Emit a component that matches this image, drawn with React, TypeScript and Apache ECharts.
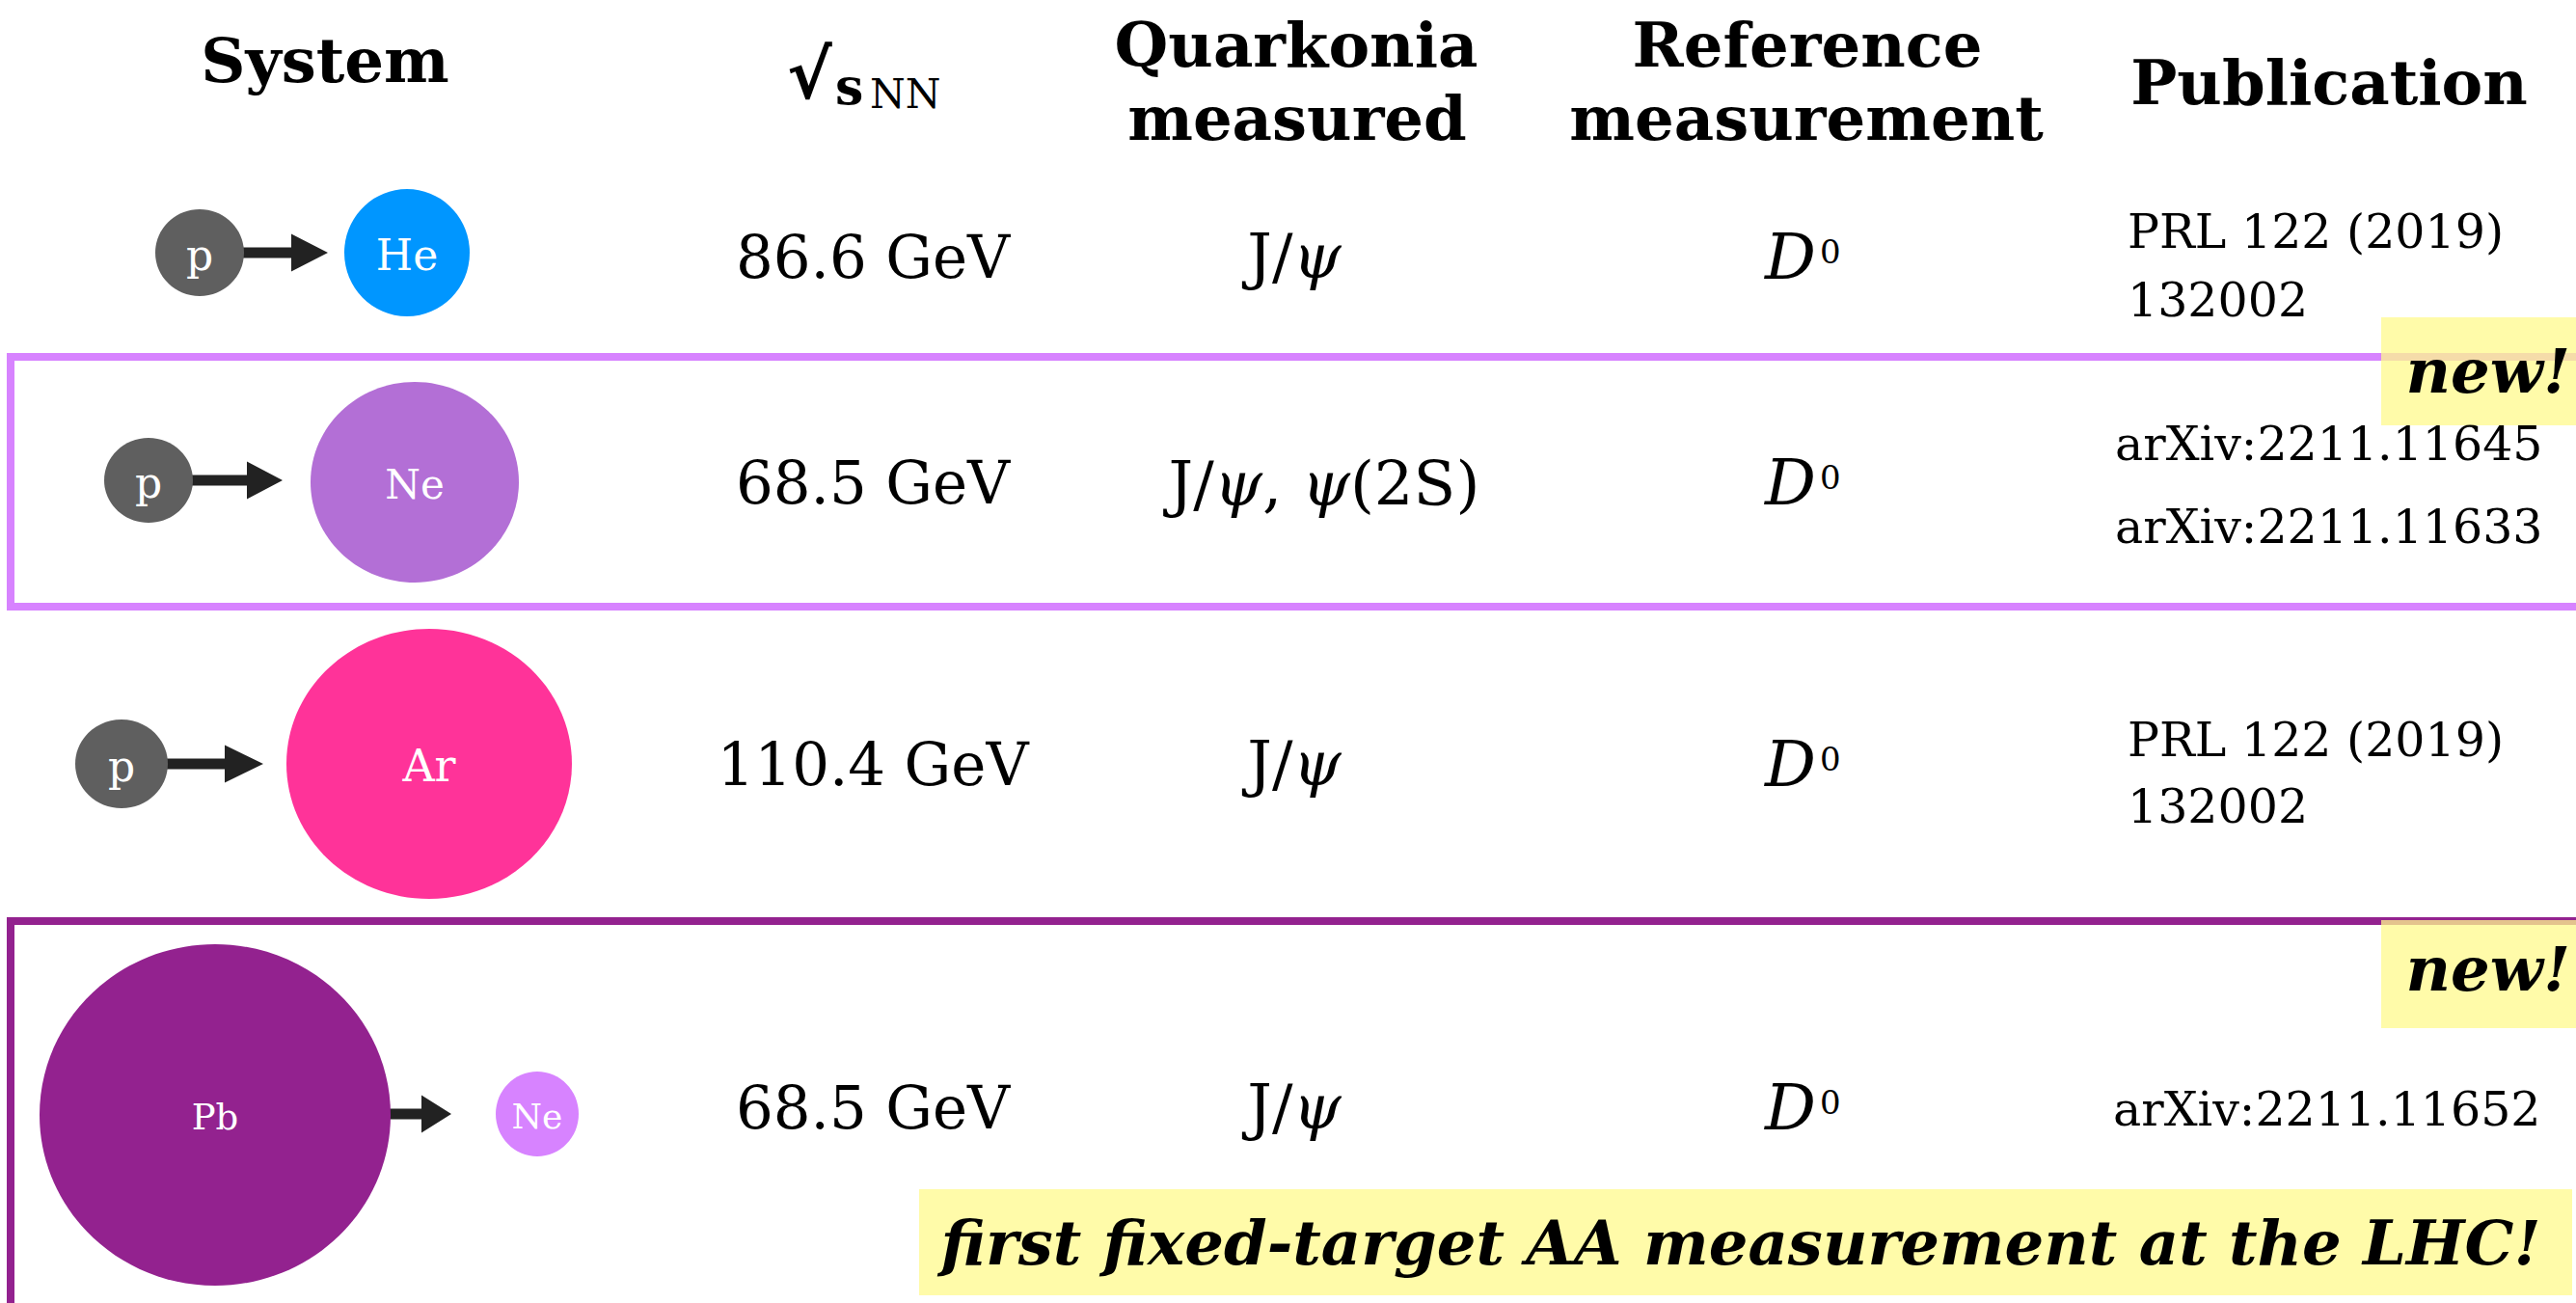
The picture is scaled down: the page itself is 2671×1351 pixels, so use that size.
import React, { useEffect, useRef } from "react";
import * as echarts from "echarts";

const W = 2671;
const H = 1351;
const FONT = '"DejaVu Serif", "Liberation Serif", serif';

// ---- table content ----
const headerSystem = "System";
const headerEnergy = ["√", "s", "NN"];
const headerQuarkonia = ["Quarkonia", "measured"];
const headerReference = ["Reference", "measurement"];
const headerPublication = "Publication";

const projectiles = ["p", "p", "p", "Pb"];
const targets = ["He", "Ne", "Ar", "Ne"];
const energies = ["86.6 GeV", "68.5 GeV", "110.4 GeV", "68.5 GeV"];
const quarkonia = [["J/ψ"], ["J/ψ", "ψ(2S)"], ["J/ψ"], ["J/ψ"]];
const references = [["D", "0"], ["D", "0"], ["D", "0"], ["D", "0"]];
const publications = [
  ["PRL 122 (2019)", "132002"],
  ["arXiv:2211.11645", "arXiv:2211.11633"],
  ["PRL 122 (2019)", "132002"],
  ["arXiv:2211.11652"],
];
const newFlags = [false, true, false, true];
const newLabel = "new!";
const highlight = "first fixed-target AA measurement at the LHC!";

// ---- layout ----
const rowY = [266, 500, 792, 1148];
const projGeom = [
  { cx: 207, cy: 262, rx: 46, ry: 45 },
  { cx: 154, cy: 498, rx: 46, ry: 44 },
  { cx: 126, cy: 792, rx: 48, ry: 46 },
  { cx: 223, cy: 1156, rx: 182, ry: 177 },
];
const targGeom = [
  { cx: 422, cy: 262, rx: 65, ry: 66 },
  { cx: 430, cy: 500, rx: 108, ry: 104 },
  { cx: 445, cy: 792, rx: 148, ry: 140 },
  { cx: 557, cy: 1155, rx: 43, ry: 44 },
];
const arrowGeom = [
  { x0: 245, xh: 302, x1: 340, y: 262 },
  { x0: 190, xh: 256, x1: 293, y: 498 },
  { x0: 165, xh: 233, x1: 273, y: 792 },
  { x0: 398, xh: 437, x1: 468, y: 1155 },
];
const projColors = ["#5f5f5f", "#5f5f5f", "#5f5f5f", "#93228f"];
const targColors = ["#0096ff", "#b36fd6", "#ff3399", "#d783ff"];
const projFont = [44, 44, 44, 37];
const targFont = [44, 42, 46, 36];
const pubX = [2206, 2193, 2206, 2191];
const pubY = [[240, 311], [460, 546], [767, 836], [1150]];
const boxes = [
  { y: 370, h: 259, color: "#d783ff" },
  { y: 955, h: 500, color: "#93228f" },
];
const newBoxY = [0, 329, 0, 954];
const newTextY = [0, 384, 0, 1004];

const txt = (text: string, x: number, y: number, size: number, o: any = {}) => ({
  type: "text",
  x,
  y,
  z: o.z ?? 10,
  style: {
    text,
    fontFamily: o.font ?? FONT,
    fontSize: size,
    fontWeight: o.weight ?? "normal",
    fontStyle: o.style ?? "normal",
    fill: o.fill ?? "#000",
    align: o.align ?? "center",
    verticalAlign: "middle",
  },
});

const richQ = (items: string[]) =>
  items
    .map((s) =>
      s
        .split(/(ψ)/)
        .filter((p) => p.length)
        .map((p) => (p === "ψ" ? `{i|ψ}` : `{n|${p}}`))
        .join("")
    )
    .join("{n|, }");

function buildElements() {
  const els: any[] = [];
  // headers
  els.push(txt(headerSystem, 337, 62, 64, { weight: "bold" }));
  els.push(
    txt(headerEnergy[0], 816, 78, 70, { weight: "bold", align: "left", font: '"DejaVu Sans", sans-serif' })
  );
  els.push(txt(headerEnergy[1], 866, 89, 52, { weight: "bold", align: "left" }));
  els.push(txt(headerEnergy[2], 902, 97, 42, { align: "left" }));
  els.push(txt(headerQuarkonia[0], 1344, 46, 64, { weight: "bold" }));
  els.push(txt(headerQuarkonia[1], 1345, 122, 64, { weight: "bold" }));
  els.push(txt(headerReference[0], 1874, 46, 64, { weight: "bold" }));
  els.push(txt(headerReference[1], 1873, 122, 64, { weight: "bold" }));
  els.push(txt(headerPublication, 2415, 85, 64, { weight: "bold" }));

  // boxes
  boxes.forEach((b) => {
    els.push({
      type: "rect",
      z: 2,
      shape: { x: 11, y: b.y, width: W + 40, height: b.h },
      style: { fill: "none", stroke: b.color, lineWidth: 8 },
    });
  });

  projectiles.forEach((p, i) => {
    const a = arrowGeom[i];
    const t = 5.5;
    const hh = 19.5;
    els.push({
      type: "polygon",
      z: 3,
      shape: {
        points: [
          [a.x0, a.y - t],
          [a.xh, a.y - t],
          [a.xh, a.y - hh],
          [a.x1, a.y],
          [a.xh, a.y + hh],
          [a.xh, a.y + t],
          [a.x0, a.y + t],
        ],
      },
      style: { fill: "#222222" },
    });
    const pg = projGeom[i];
    els.push({ type: "ellipse", z: 4, shape: pg, style: { fill: projColors[i] } });
    els.push(txt(p, pg.cx, pg.cy + 2, projFont[i], { fill: "#fff", z: 5 }));
    const tg = targGeom[i];
    els.push({ type: "ellipse", z: 4, shape: tg, style: { fill: targColors[i] } });
    els.push(txt(targets[i], tg.cx, tg.cy + 2, targFont[i], { fill: "#fff", z: 5 }));

    const y = rowY[i];
    els.push(txt(energies[i], 905, y, 61));
    els.push({
      type: "text",
      z: 10,
      x: i === 1 ? 1373 : 1342,
      y: y + (i === 1 ? 2 : 0),
      style: {
        text: richQ(quarkonia[i]),
        align: "center",
        verticalAlign: "middle",
        fontFamily: FONT,
        fontSize: 64,
        fill: "#000",
        rich: {
          n: { fontFamily: FONT, fontSize: 64, fill: "#000" },
          i: { fontFamily: FONT, fontSize: 64, fontStyle: "italic", fill: "#000" },
        },
      },
    });
    const r = references[i];
    els.push(txt(r[0], 1830, y, 66, { style: "italic", align: "left" }));
    els.push(txt(r[1], 1887, y - 5, 34, { align: "left" }));

    publications[i].forEach((line, k) => {
      els.push(txt(line, pubX[i], pubY[i][k], 49, { align: "left" }));
    });

    if (newFlags[i]) {
      els.push({
        type: "rect",
        z: 6,
        shape: { x: 2469, y: newBoxY[i], width: 210, height: 112 },
        style: { fill: "#fff98c", opacity: 0.75 },
      });
      els.push(
        txt(newLabel, 2665, newTextY[i], 64, { weight: "bold", style: "italic", align: "right", z: 11 })
      );
    }
  });

  els.push({
    type: "rect",
    z: 6,
    shape: { x: 953, y: 1233, width: 1714, height: 110 },
    style: { fill: "#fff98c", opacity: 0.75 },
  });
  els.push(txt(highlight, 1805, 1288, 64, { weight: "bold", style: "italic", z: 11 }));
  return els;
}

export default function App() {
  const ref = useRef<HTMLDivElement>(null);
  useEffect(() => {
    if (!ref.current) return;
    const chart = echarts.init(ref.current, null, { renderer: "svg", width: W, height: H });
    chart.setOption({
      animation: false,
      backgroundColor: "#ffffff",
      graphic: { elements: buildElements() },
    });
    return () => chart.dispose();
  }, []);
  return (
    <div
      ref={ref}
      style={{ position: "fixed", left: 0, top: 0, width: W + "px", height: H + "px", background: "#fff" }}
    />
  );
}
